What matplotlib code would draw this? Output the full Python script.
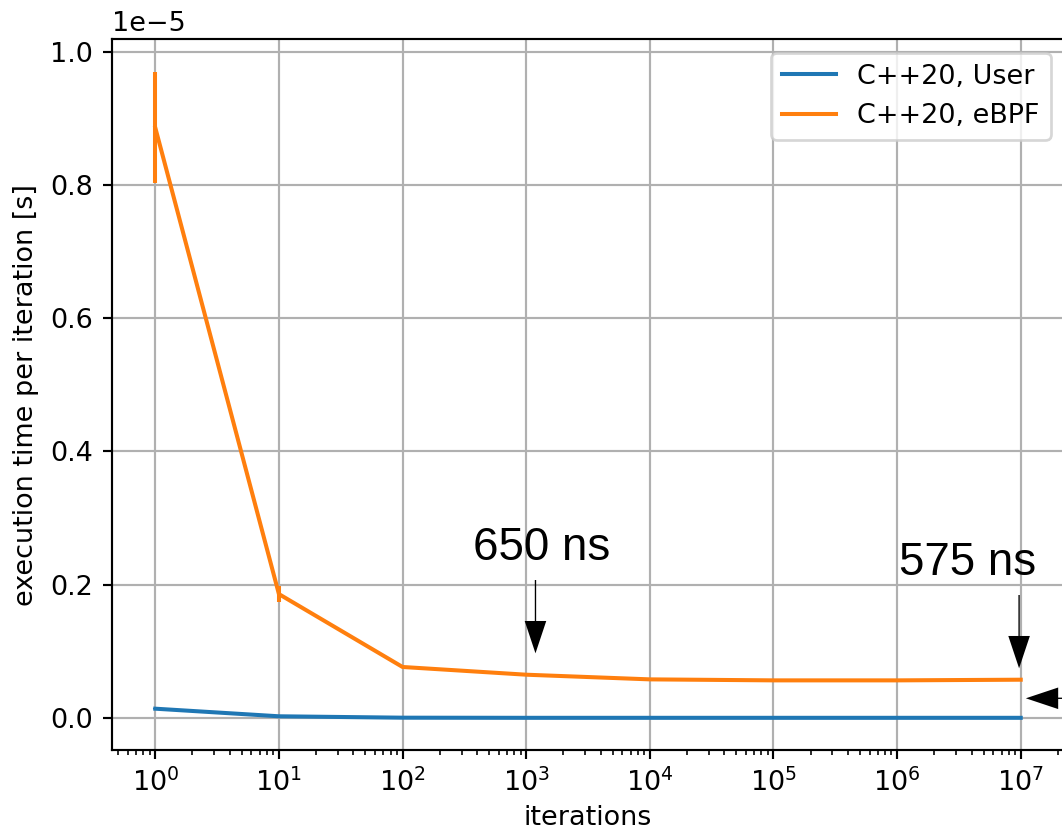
import matplotlib
matplotlib.use('Agg')
import matplotlib.pyplot as plt

# data
iterations = [1, 10, 100, 1e3, 1e4, 1e5, 1e6, 1e7]
user_time = [0.0140e-5, 0.0026e-5, 0.0005e-5, 0.0003e-5, 0.0003e-5, 0.0003e-5, 0.0003e-5, 0.0003e-5]
user_err = [0.0012e-5, 0.0003e-5, 0, 0, 0, 0, 0, 0]
ebpf_time = [0.886e-5, 0.186e-5, 0.0766e-5, 0.065e-5, 0.058e-5, 0.0565e-5, 0.0565e-5, 0.0575e-5]
ebpf_err = [0.0835e-5, 0.012e-5, 0.0015e-5, 0, 0, 0, 0, 0]
series_labels = ['C++20, User', 'C++20, eBPF']

# annotations: (label, text x, text y, arrow x, arrow start y, arrow tip y)
notes = [("650 ns", 1336, 0.2371e-5, 1189, 0.2071e-5, 0.0971e-5),
         ("575 ns", 3.73e6, 0.2146e-5, 9.7e6, 0.1846e-5, 0.0746e-5)]

fig = plt.figure(figsize=(1062 / 194, 828 / 194), dpi=194)
ax = fig.add_axes([112 / 1062, 78 / 828, 952 / 1062, 710.7 / 828])

user = ax.errorbar(iterations, user_time, yerr=user_err)
ebpf = ax.errorbar(iterations, ebpf_time, yerr=ebpf_err)
ax.set_xscale('log')
ax.set_xlim(10 ** -0.35, 10 ** 7.35)
ax.set_ylim(-0.048e-5, 1.0186e-5)
ax.set_xlabel('iterations', labelpad=3)
ax.set_ylabel('execution time per iteration [s]')
ax.grid(True)
ax.legend([user.lines[0], ebpf.lines[0]], series_labels, loc='upper right')

arrow = dict(arrowstyle='simple,head_length=12,head_width=8,tail_width=0.5',
             fc='black', ec='black', lw=0, shrinkA=0, shrinkB=0, mutation_scale=1)

for label, tx, ty, axx, ay0, ay1 in notes:
    ax.text(tx, ty, label, fontsize=17, family='Liberation Sans', ha='center', va='baseline')
    ax.annotate('', xy=(axx, ay1), xytext=(axx, ay0), ha='center', va='center', arrowprops=arrow)

# third arrow, its label lies outside the cropped figure
ax.annotate('', xy=(1.1e7, 0.0296e-5), xytext=(10 ** 7.9, 0.0296e-5),
            ha='center', va='center', arrowprops=arrow)

plt.savefig('out.png', dpi=194)
